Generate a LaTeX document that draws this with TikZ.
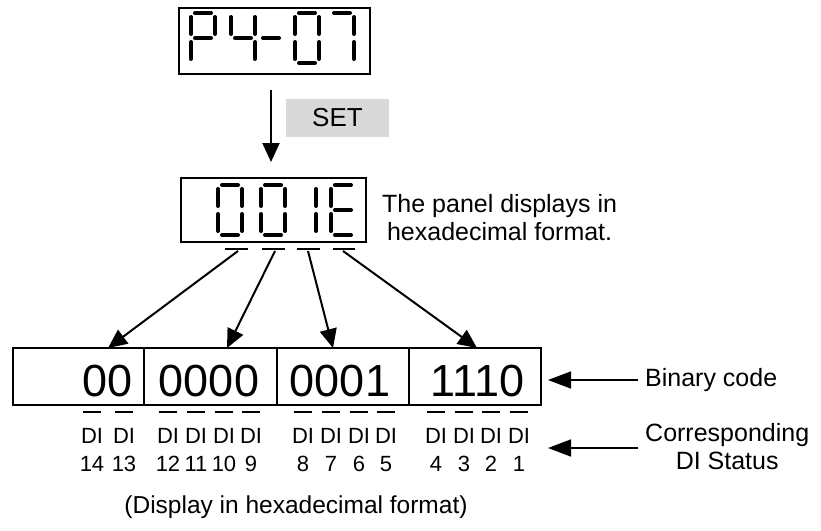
\documentclass[tikz,border=0pt]{standalone}
\usepackage{fontspec}
\setmainfont{Liberation Sans}
\usetikzlibrary{arrows.meta}
\definecolor{setgray}{RGB}{217,217,217}
\tikzset{
  seg/.style={line width=4pt, line cap=round},
  dispbox/.style={draw, inner sep=0pt, anchor=north west},
  cell/.style={draw, line width=1.5pt, minimum height=57pt, inner sep=0pt},
  arr/.style={line width=2pt, -{Triangle[length=19pt,width=17pt]}},
  arrL/.style={line width=1.5pt, -{Triangle[length=23pt,width=17pt]}},
  hexdash/.style={line width=2pt},
  bitdash/.style={line width=1.5pt},
  bigdig/.style={inner sep=0pt, font=\fontsize{45}{54}\selectfont},
  lbl/.style={inner xsep=7pt, inner ysep=0pt, anchor=west, font=\fontsize{25}{28}\selectfont, align=center},
  dilbl/.style={inner sep=0pt, font=\fontsize{22}{26}\selectfont}
}
\newcommand\SgA{\draw[seg] (4,0)--(20,0);}
\newcommand\SgB{\draw[seg] (24,4)--(24,21);}
\newcommand\SgC{\draw[seg] (24,29)--(24,46);}
\newcommand\SgD{\draw[seg] (4,50)--(20,50);}
\newcommand\SgE{\draw[seg] (0,29)--(0,46);}
\newcommand\SgF{\draw[seg] (0,4)--(0,21);}
\newcommand\SgG{\draw[seg] (4,25)--(20,25);}
\newcommand\DigitAt[3]{\begin{scope}[shift={(#1,#2)}]#3\end{scope}}
\begin{document}
\begin{tikzpicture}[x=1pt,y=-1pt]
\useasboundingbox (0,0) rectangle (821,530);
% top display
\node[dispbox, line width=2pt, minimum width=191pt, minimum height=66pt] (disp1) at (178,7) {};
\DigitAt{191}{13}{\SgA\SgB\SgE\SgF\SgG}
\DigitAt{231}{13}{\SgF\SgG\SgB\SgC}
\DigitAt{259}{13}{\SgG}
\DigitAt{295}{13}{\SgA\SgB\SgC\SgD\SgE\SgF}
\DigitAt{330}{13}{\SgA\SgB\SgC}
% SET arrow
\coordinate (a0) at (271,90);
\coordinate (a1) at (271,162);
\draw[arr] (a0) -- (a1);
\node[fill=setgray, minimum width=103pt, minimum height=38pt, inner sep=0pt, font=\fontsize{26}{30}\selectfont] (set) at (337.5,118) {SET};
% second display
\node[dispbox, line width=1.5pt, minimum width=185pt, minimum height=64pt] (disp2) at (180,177) {};
\DigitAt{218}{185}{\SgA\SgB\SgC\SgD\SgE\SgF}
\DigitAt{261}{185}{\SgA\SgB\SgC\SgD\SgE\SgF}
\DigitAt{292}{185}{\SgB\SgC}
\DigitAt{331}{185}{\SgA\SgD\SgE\SgF\SgG}
\node[lbl, inner xsep=0pt] (panel) at (382,218) {The panel displays in\\hexadecimal format.};
% dashes under hex digits
\draw[hexdash] (225,249) -- (248,249);
\draw[hexdash] (262,249) -- (285,249);
\draw[hexdash] (297,249) -- (320,249);
\draw[hexdash] (333,249) -- (355,249);
\coordinate (h1) at (238,251);
\coordinate (h2) at (275,251);
\coordinate (h3) at (308,251);
\coordinate (h4) at (343,251);
\coordinate (t1) at (108,348);
\coordinate (t2) at (227,348);
\coordinate (t3) at (333,348);
\coordinate (t4) at (477,348);
% binary box
\node[cell, minimum width=131pt] (c1) at (78.5,376.5) {};
\node[cell, minimum width=133pt] (c2) at (210.5,376.5) {};
\node[cell, minimum width=132pt] (c3) at (343,376.5) {};
\node[cell, minimum width=132pt] (c4) at (475,376.5) {};
\node[bigdig] (b1) at (108,381) {00};
\node[bigdig] (b2) at (209,381) {0000};
\node[bigdig] (b3) at (340,381) {0001};
\node[bigdig] (b4) at (477.5,381) {1110};
\draw[arr] (h1) -- (t1);
\draw[arr] (h2) -- (t2);
\draw[arr] (h3) -- (t3);
\draw[arr] (h4) -- (t4);
% right labels
\node[lbl] (bin) at (638,380) {Binary code};
\coordinate (binTip) at (548,380);
\draw[arrL] (bin.west) -- (binTip);
\node[lbl] (corr) at (638,447) {Corresponding\\DI Status};
\coordinate (corrTip) at (548,448);
\draw[arrL] (corr.west |- corrTip) -- (corrTip);
% DI labels
\foreach \x/\n in {92/14,124/13,168/12,196/11,224/10,251/9,303/8,331/7,359/6,386/5,436/4,464/3,491/2,519/1} {
  \draw[bitdash] (\x-9,412) -- (\x+9,412);
  \node[dilbl] (di\n) at (\x,436) {DI};
  \node[dilbl] (num\n) at (\x,464) {\n};
}
\node[inner sep=0pt, font=\fontsize{24.5}{28}\selectfont] (cap) at (296,507) {(Display in hexadecimal format)};
\end{tikzpicture}
\end{document}
